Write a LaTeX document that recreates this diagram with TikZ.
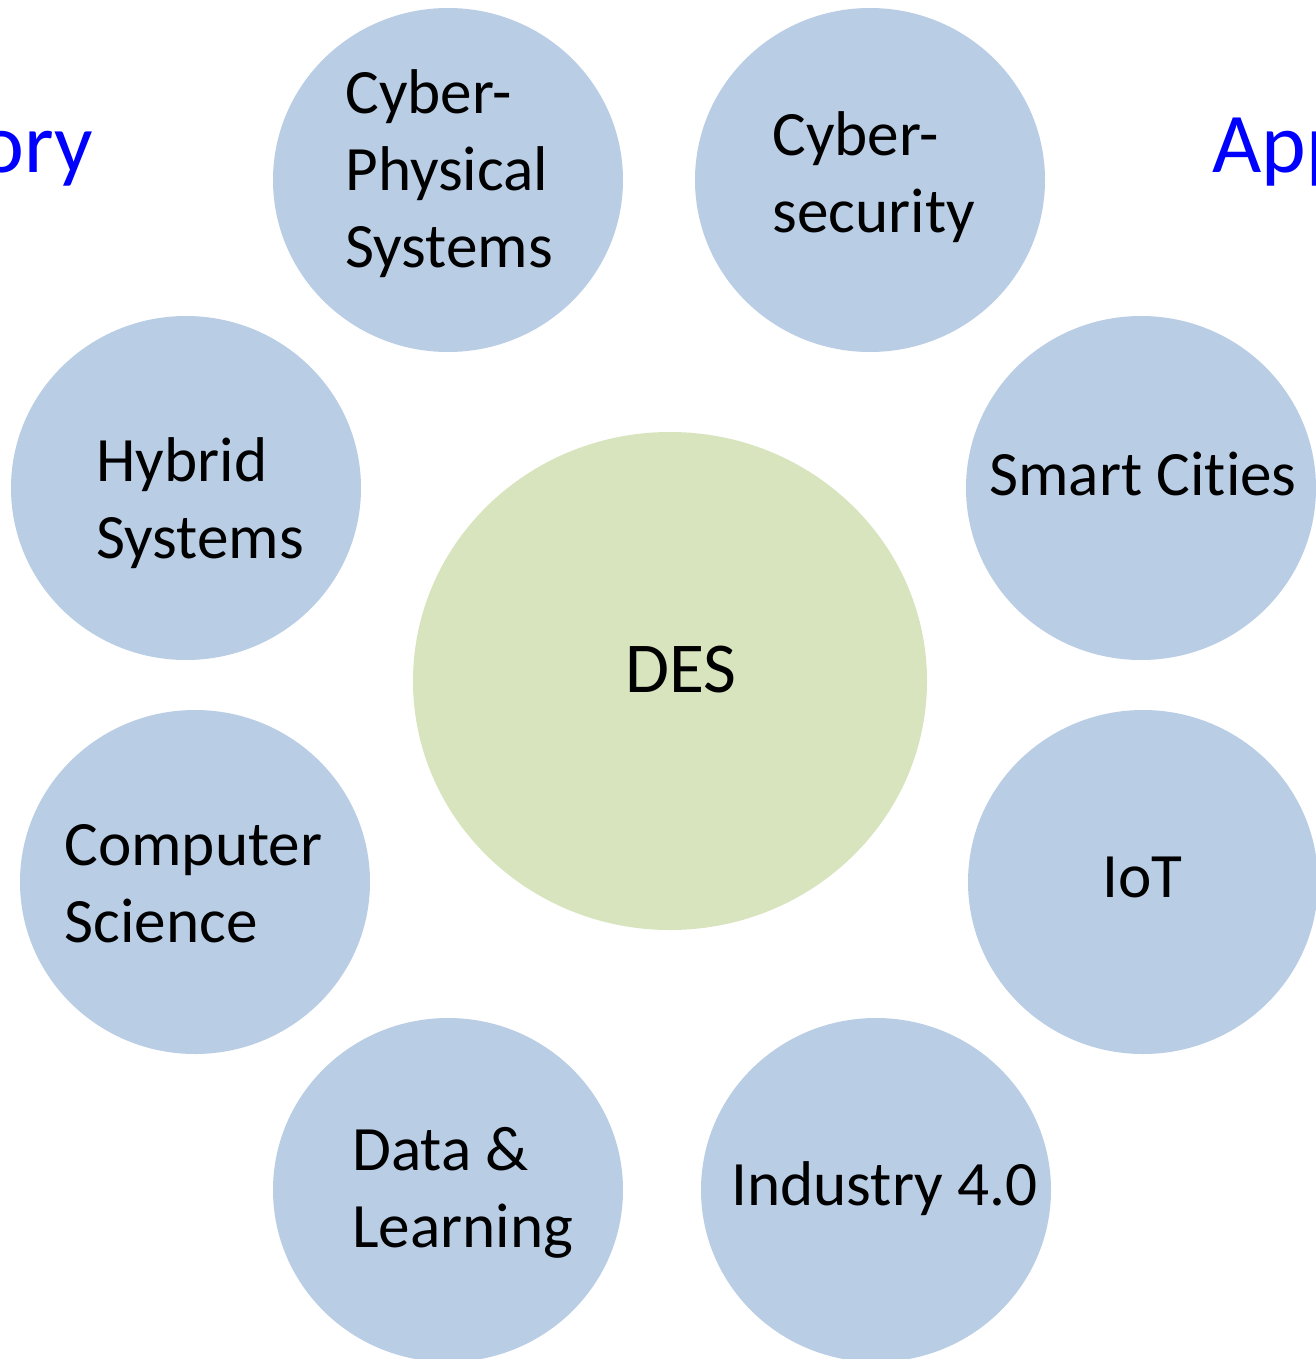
\documentclass[tikz,border=0pt]{standalone}
\usepackage{fontspec}
\setmainfont[Ligatures=NoCommon]{Carlito}
\usetikzlibrary{shapes.geometric}
\definecolor{topicblue}{HTML}{B9CDE5}
\definecolor{desgreen}{HTML}{D7E4BD}
\definecolor{sideblue}{HTML}{0000FF}

\begin{document}
\begin{tikzpicture}[x=0.5pt,y=-0.5pt,
topic/.style={ellipse,fill=topicblue,minimum width=175pt,minimum height=172pt,inner sep=0pt},
core/.style={ellipse,fill=desgreen,minimum width=257pt,minimum height=249pt,inner sep=0pt},
topictext/.style={anchor=base west,align=left,inner sep=0pt,font=\fontsize{31.6}{38.5}\selectfont},
sidetext/.style={text=sideblue,inner sep=0pt,font=\fontsize{42.5}{51}\selectfont}]
\useasboundingbox (0,0) rectangle (1316,1359);
\clip (0,0) rectangle (1316,1359);

% centre
\node[core] (des) at (670,681) {};
\node[anchor=base,inner sep=0pt,font=\fontsize{35.8}{42}\selectfont] (des-t) at (681,692) {DES};

% circles round it
\node[topic] (cps) at (448,180) {};
\node[topic] (sec) at (870,180) {};
\node[topic] (hyb) at (186,488) {};
\node[topic] (smart) at (1141,488) {};
\node[topic] (cs) at (195,882) {};
\node[topic] (iot) at (1143,882) {};
\node[topic] (data) at (448,1190) {};
\node[topic] (ind) at (876,1190) {};

% texts (base = last line)
\node[topictext] (cps-t) at (345,267) {Cyber-\\Physical\\Systems};
\node[topictext] (sec-t) at (772,232) {Cyber-\\security};
\node[topictext] (hyb-t) at (96,558) {Hybrid\\Systems};
\node[topictext] (smart-t) at (989,495) {Smart Cities};
\node[topictext] (cs-t) at (64,942) {Computer\\Science};
\node[topictext] (iot-t) at (1102,897) {IoT};
\node[topictext] (data-t) at (352,1247) {Data \&\\Learning};
\node[topictext] (ind-t) at (731,1205) {Industry 4.0};

% side headings, cut by the frame
\node[sidetext,anchor=base east] (theory) at (93,172) {Theory};
\node[sidetext,anchor=base west] (appl) at (1212,172) {Applications};
\end{tikzpicture}
\end{document}
